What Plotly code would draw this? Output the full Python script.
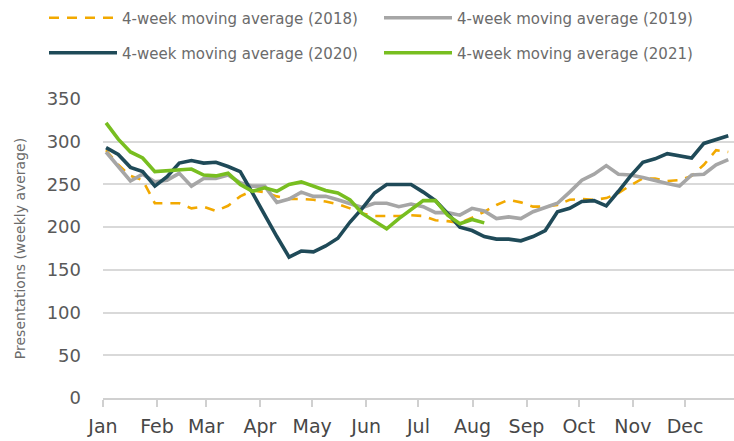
import plotly.graph_objects as go

# ---- data (weekly 4-week moving average of presentations) ----
values_2018 = [290, 273, 260, 255, 228, 228, 228, 222, 224, 219,
               225, 236, 243, 241, 236, 233, 233, 232, 230, 227,
               222, 216, 213, 213, 213, 214, 213, 208, 207, 205,
               211, 218, 226, 232, 229, 224, 224, 226, 232, 233,
               232, 234, 240, 249, 257, 257, 254, 255, 260, 273,
               290, 288]

values_2019 = [288, 271, 254, 262, 253, 255, 263, 248, 257, 257,
               261, 252, 248, 248, 229, 233, 241, 236, 236, 232,
               227, 223, 228, 228, 224, 227, 224, 217, 217, 214,
               222, 219, 210, 212, 210, 218, 223, 228, 241, 255,
               262, 272, 262, 261, 258, 254, 251, 248, 261, 262,
               273, 279]

values_2020 = [293, 285, 270, 265, 248, 259, 275, 278, 275, 276,
               271, 265, 240, 214, 189, 165, 172, 171, 178, 187,
               206, 222, 240, 250, 250, 250, 241, 231, 216, 200,
               196, 189, 186, 186, 184, 189, 196, 218, 222, 230,
               231, 225, 242, 260, 276, 280, 286, 284, 281, 298,
               302, 307]

values_2021 = [322, 303, 288, 281, 265, 266, 266, 268, 261, 260,
               263, 250, 242, 246, 242, 250, 253, 248, 243, 240,
               232, 216, 207, 198, 210, 220, 231, 231, 214, 204,
               209, 205]

series_names = ["4-week moving average (2018)", "4-week moving average (2019)",
                "4-week moving average (2020)", "4-week moving average (2021)"]

month_labels = ["Jan", "Feb", "Mar", "Apr", "May", "Jun",
                "Jul", "Aug", "Sep", "Oct", "Nov", "Dec"]
month_start_days = [0, 31, 59, 90, 120, 151, 181, 212, 243, 273, 304, 334]

# ---- styling ----
colors = ["#F2A900", "#A6A6A6", "#1F4A58", "#78BE20"]
dashes = ["10px,8px", "solid", "solid", "solid"]
widths = [2.6, 3.6, 3.6, 3.6]
all_values = [values_2018, values_2019, values_2020, values_2021]
legend_ids = ["legend", "legend2", "legend3", "legend4"]

FONT = "DejaVu Sans"

fig = go.Figure()
for name, vals, col, dsh, w, lg in zip(series_names, all_values, colors, dashes, widths, legend_ids):
    fig.add_trace(go.Scatter(
        x=list(range(len(vals))), y=vals, mode="lines", name=name,
        line=dict(color=col, width=w, dash=dsh),
        legend=lg, hoverinfo="x+y"))

tickvals = [d / 7 - 0.25 for d in month_start_days]

W, H = 734, 441
L, R, T, B = 103, 0, 99, 43
pw, ph = W - L - R, H - T - B

def px_to_paper(xp, yp):
    return (xp - L) / pw, 1 + (T - yp) / ph

legend_pos = [(44, 18), (379, 18), (44, 53), (379, 53)]
legend_layout = {}
for lg, (xp, yp) in zip(legend_ids, legend_pos):
    xx, yy = px_to_paper(xp, yp)
    legend_layout[lg] = dict(
        x=xx, y=yy, xanchor="left", yanchor="middle", orientation="h",
        font=dict(family=FONT, size=15, color="#6B6B6B"),
        itemwidth=68, bgcolor="rgba(0,0,0,0)", borderwidth=0,
        itemclick=False, itemdoubleclick=False)

fig.update_layout(
    width=W, height=H,
    margin=dict(l=L, r=R, t=T, b=B, pad=0, autoexpand=False),
    plot_bgcolor="white", paper_bgcolor="white",
    font=dict(family=FONT, color="#555555"),
    showlegend=True,
    **legend_layout,
    xaxis=dict(
        range=[-0.25, 51.47],
        tickmode="array", tickvals=tickvals, ticktext=month_labels,
        ticks="outside", ticklen=7, tickwidth=1.5, tickcolor="#D0D0D0",
        showline=True, linecolor="#D0D0D0", linewidth=1.5,
        showgrid=False, zeroline=False,
        ticklabelstandoff=3,
        tickfont=dict(family=FONT, size=19, color="#474747"),
        automargin=False, fixedrange=True,
    ),
    yaxis=dict(
        range=[0, 350], dtick=50, tick0=0,
        showgrid=True, gridcolor="#D9D9D9", gridwidth=1.5,
        zeroline=False, showline=False, ticks="",
        ticklabelstandoff=21,
        tickfont=dict(family=FONT, size=18, color="#595959"),
        title=dict(text="Presentations (weekly average)",
                   font=dict(family=FONT, size=14, color="#6B6B6B"),
                   standoff=17),
        automargin=False, fixedrange=True,
    ),
)

fig.write_html("out.html", config={"displayModeBar": False},
               post_script="document.body.style.margin='0px';")
